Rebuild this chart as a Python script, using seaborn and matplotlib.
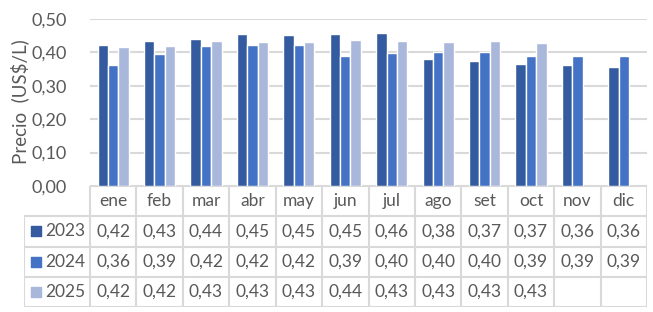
import numpy as np
import pandas as pd
import matplotlib
matplotlib.use("Agg")
import matplotlib.pyplot as plt
import seaborn as sns

months = ["ene", "feb", "mar", "abr", "may", "jun", "jul", "ago", "set", "oct", "nov", "dic"]
years = ["2023", "2024", "2025"]
v2023 = [0.422, 0.434, 0.440, 0.454, 0.452, 0.454, 0.457, 0.380, 0.374, 0.366, 0.362, 0.356]
v2024 = [0.362, 0.394, 0.419, 0.422, 0.422, 0.389, 0.398, 0.401, 0.401, 0.389, 0.389, 0.389]
v2025 = [0.416, 0.419, 0.434, 0.431, 0.431, 0.437, 0.434, 0.431, 0.434, 0.428, np.nan, np.nan]
colors = ["#345B9F", "#4472C4", "#A9B7DB"]
yticks = [0.0, 0.1, 0.2, 0.3, 0.4, 0.5]

sns.set_theme(style="white")
plt.rcParams["font.family"] = ["Lato", "DejaVu Sans"]
TXT = "#595959"
GRID = "#D9D9D9"
FS = 12.5

rows = []
for y, vals in zip(years, [v2023, v2024, v2025]):
    for m, v in zip(months, vals):
        if not np.isnan(v):
            rows.append({"mes": m, "año": y, "precio": v})
df = pd.DataFrame(rows)

W, H = 653, 312
fig = plt.figure(figsize=(W / 100, H / 100), dpi=100)
left, right, top, bot = 90, 647, 19, 186
ax = fig.add_axes([left / W, 1 - bot / H, (right - left) / W, (bot - top) / H])

sns.barplot(data=df, x="mes", y="precio", hue="año", order=months, hue_order=years,
            palette=colors, width=0.67, saturation=1, ax=ax, legend=False, zorder=3)
ax.set_xlim(-0.5, 11.5)
ax.set_ylim(0, 0.5)
ax.set_yticks(yticks)
ax.set_yticklabels([f"{t:.2f}".replace(".", ",") for t in yticks], color=TXT, fontsize=FS + 0.5)
ax.tick_params(axis="y", length=0, pad=17)
ax.set_xticks([])
ax.set_xlabel("")
ax.set_ylabel("")
ax.yaxis.grid(True, color=GRID, lw=1.5, zorder=0)
ax.set_axisbelow(True)
for s in ax.spines.values():
    s.set_visible(False)
fig.text(20 / W, 1 - 102 / H, "Precio  (US$/L)", rotation=90, ha="center", va="center",
         color=TXT, fontsize=13.5)

# data table
tt, tb, tl = 186, 307, 24
tax = fig.add_axes([tl / W, 1 - tb / H, (right - tl) / W, (tb - tt) / H])
cw = (right - left) / 12.0
L = (left - tl) / cw
x0 = -0.5 - L
tax.set_xlim(x0, 11.5)
tax.set_ylim(4, 0)
tax.axis("off")
lw = 1.5
for k in range(13):
    tax.plot([k - 0.5, k - 0.5], [0, 4], color=GRID, lw=lw, solid_capstyle="projecting")
tax.plot([x0, x0], [1, 4], color=GRID, lw=lw, solid_capstyle="projecting")
tax.plot([-0.5, 11.5], [0, 0], color=GRID, lw=lw, solid_capstyle="projecting")
for r in range(1, 5):
    tax.plot([x0, 11.5], [r, r], color=GRID, lw=lw, solid_capstyle="projecting")
for i, m in enumerate(months):
    tax.text(i, 0.5, m, ha="center", va="center", color=TXT, fontsize=FS)
for r, (y, vals, c) in enumerate(zip(years, [v2023, v2024, v2025], colors)):
    for i, v in enumerate(vals):
        if not np.isnan(v):
            tax.text(i, r + 1.5, f"{v:.2f}".replace(".", ","), ha="center", va="center",
                     color=TXT, fontsize=FS)
    sx = (36 - left) / cw - 0.5
    tax.scatter([sx], [r + 1.5], marker="s", s=55, color=c, clip_on=False)
    tax.text((45 - left) / cw - 0.5, r + 1.5, y, ha="left", va="center", color=TXT, fontsize=FS)

fig.savefig("out.png", dpi=100)
